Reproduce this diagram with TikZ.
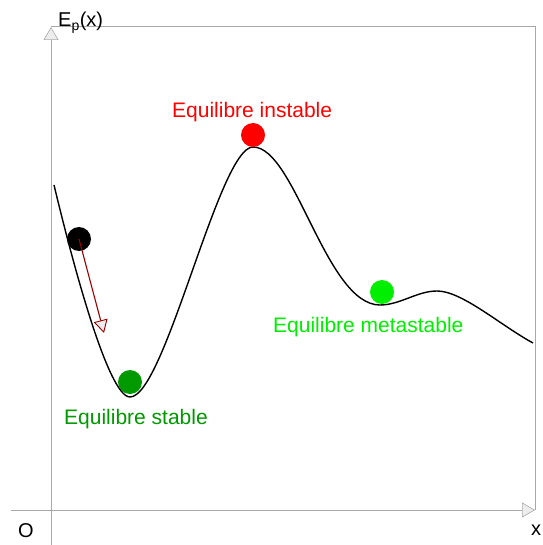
\documentclass[tikz,border=0pt]{standalone}
\usepackage{fontspec}
\setmainfont{Liberation Sans}
\usetikzlibrary{arrows.meta}
\definecolor{axisgray}{HTML}{A8A8A8}
\definecolor{headfill}{HTML}{EDEDED}
\definecolor{stablegreen}{HTML}{009900}
\definecolor{metalime}{HTML}{00EE00}
\definecolor{darkred}{HTML}{990000}
\tikzset{
  axis/.style={draw=axisgray, line width=1pt},
  axhead/.style={-{Triangle[width=15pt,length=13pt,fill=headfill,line width=0.6pt]}},
  ball/.style={circle, inner sep=0pt, minimum size=24pt, draw=none},
  lbl/.style={inner sep=0pt, anchor=base west, font=\fontsize{21}{25}\selectfont},
  axlbl/.style={inner sep=0pt, anchor=base west, font=\fontsize{20}{24}\selectfont},
  curve/.style={draw=black, line width=1.4pt},
  push/.style={draw=darkred, line width=1.1pt, -{Triangle[width=14pt,length=13pt,fill=headfill,line width=0.9pt]}}
}
\begin{document}
\begin{tikzpicture}[x=1pt,y=-1pt]
\useasboundingbox (0,0) rectangle (542,545);
% axes and frame
\coordinate (ybot) at (51,545);
\coordinate (ytop) at (51,27);
\coordinate (xleft) at (11,510);
\coordinate (xright) at (535,510);
\draw[axis] (ytop) -- (535,27) -- (xright);
\draw[axis,axhead] (ybot) -- (ytop);
\draw[axis,axhead] (xleft) -- (xright);
% labels of axes
\node[axlbl] (ep) at (58,27) {E\textsubscript{p}(x)};
\node[axlbl] (o) at (18,537) {O};
\node[axlbl] (xl) at (531,535) {x};
% potential curve
\draw[curve] (54,185)
  .. controls (72,260) and (108,397) .. (130,397)
  .. controls (165,397) and (219,147) .. (253,147)
  .. controls (295,147) and (326,305) .. (380,305)
  .. controls (400,305) and (417,291) .. (437,291)
  .. controls (462,291) and (500,325) .. (533,343);
% balls
\node[ball, fill=black] (b0) at (79,239) {};
\node[ball, fill=stablegreen] (bs) at (130,382) {};
\node[ball, fill=red] (bi) at (253,135) {};
\node[ball, fill=metalime] (bm) at (382,292) {};
% push arrow
\coordinate (pend) at (104,333);
\draw[push] (b0.center) -- (pend);
% state labels
\node[lbl, text=red] (li) at (172,118) {Equilibre instable};
\node[lbl, text=metalime] (lm) at (273,332) {Equilibre metastable};
\node[lbl, text=stablegreen] (ls) at (64,424) {Equilibre stable};
\end{tikzpicture}
\end{document}
